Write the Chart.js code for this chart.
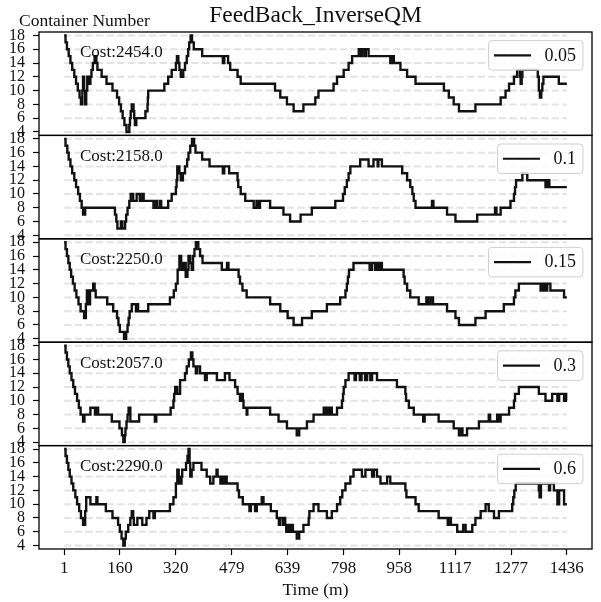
<!DOCTYPE html>
<html>
<head>
<meta charset="utf-8">
<title>FeedBack_InverseQM</title>
<script src="https://cdn.jsdelivr.net/npm/chart.js@4.4.1/dist/chart.umd.min.js"></script>
<style>
  html, body { margin: 0; padding: 0; background: #ffffff; }
  canvas { display: block; }
</style>
</head>
<body>
<canvas id="chart" width="601" height="602"></canvas>
<script>
// Container count per minute for each feedback weight, stored as change points:
// [minute, number of containers from that minute on].
const series005 = [[1,18],[5,17],[9,16],[14,15],[19,14],[24,13],[30,12],[35,11],[40,10],[45,9],[49,8],[53,10],[55,12],[58,10],[61,8],[64,10],[67,12],[71,11],[76,12],[79,13],[83,14],[88,15],[93,14],[96,13],[108,12],[122,11],[139,10],[152,9],[158,8],[163,7],[168,6],[173,5],[179,4],[187,5],[189,6],[191,7],[194,8],[199,7],[201,6],[203,5],[207,6],[233,7],[239,8],[240,9],[241,10],[287,11],[298,12],[308,13],[320,14],[323,15],[327,14],[330,13],[334,12],[341,13],[346,14],[351,15],[355,16],[358,17],[362,18],[366,17],[371,16],[395,15],[454,14],[458,15],[469,14],[475,13],[496,12],[505,11],[603,10],[618,9],[637,8],[656,7],[684,8],[718,9],[727,10],[770,11],[780,12],[799,13],[813,14],[823,15],[842,16],[849,15],[852,16],[859,15],[862,16],[870,15],[932,14],[936,15],[942,14],[961,13],[980,12],[1004,11],[1085,10],[1099,9],[1113,8],[1128,7],[1175,8],[1247,9],[1261,10],[1271,11],[1285,12],[1294,13],[1302,12],[1304,11],[1307,12],[1309,13],[1353,12],[1356,10],[1359,9],[1363,10],[1366,11],[1369,12],[1413,11],[1436,11]];

const series01 = [[1,18],[5,17],[10,16],[14,15],[19,14],[24,13],[30,12],[35,11],[41,10],[46,9],[51,8],[55,7],[61,8],[146,7],[150,6],[153,5],[163,6],[167,5],[175,6],[178,7],[182,8],[187,9],[191,10],[198,9],[208,10],[217,9],[224,10],[228,9],[256,8],[262,9],[267,8],[275,9],[278,8],[298,9],[308,10],[320,11],[322,12],[324,14],[330,13],[334,12],[340,13],[346,14],[352,15],[356,16],[361,17],[366,18],[372,17],[376,16],[395,15],[416,14],[454,13],[458,14],[472,13],[496,12],[498,11],[505,10],[518,9],[542,8],[550,9],[555,8],[560,9],[589,8],[627,7],[646,6],[676,7],[708,8],[775,9],[797,10],[802,11],[808,12],[813,13],[818,14],[846,15],[870,14],[884,15],[896,14],[898,15],[908,14],[966,13],[980,12],[989,11],[995,10],[999,9],[1004,8],[1051,9],[1055,8],[1094,7],[1118,6],[1180,7],[1231,8],[1235,7],[1247,8],[1275,9],[1285,10],[1288,11],[1291,12],[1309,13],[1323,12],[1375,11],[1380,12],[1386,11],[1436,11]];

const series015 = [[1,18],[5,17],[9,16],[13,15],[17,14],[21,13],[26,12],[31,11],[36,10],[42,9],[48,8],[58,7],[63,9],[66,11],[71,9],[75,11],[84,12],[88,11],[91,10],[124,9],[141,8],[152,7],[156,6],[160,5],[172,4],[178,5],[182,6],[185,7],[188,8],[194,9],[206,8],[209,9],[212,8],[241,9],[303,10],[314,11],[320,12],[325,14],[330,16],[335,15],[337,14],[342,15],[348,13],[353,14],[356,16],[361,15],[365,14],[369,16],[373,17],[377,18],[384,17],[389,16],[396,15],[451,14],[466,15],[470,14],[499,13],[503,12],[510,11],[522,10],[589,9],[618,8],[639,7],[656,6],[680,7],[708,8],[751,9],[789,10],[804,11],[808,12],[811,13],[814,14],[827,15],[873,14],[880,15],[889,14],[893,15],[898,14],[902,15],[908,14],[970,13],[973,12],[980,11],[989,10],[1013,9],[1035,10],[1040,9],[1047,10],[1054,9],[1094,8],[1118,7],[1128,6],[1175,7],[1204,8],[1256,9],[1285,10],[1289,11],[1299,12],[1361,11],[1364,12],[1368,11],[1372,12],[1376,11],[1380,12],[1389,11],[1428,10],[1436,10]];

const series03 = [[1,18],[5,17],[9,16],[13,15],[17,14],[22,13],[27,12],[32,11],[38,10],[43,9],[48,8],[55,7],[59,8],[76,9],[89,8],[94,9],[98,8],[137,7],[159,6],[166,5],[170,4],[174,5],[176,6],[179,7],[182,8],[185,9],[190,7],[215,8],[260,7],[264,8],[305,9],[313,10],[315,11],[318,12],[324,11],[332,13],[346,14],[351,15],[357,16],[363,17],[367,16],[370,15],[377,14],[381,15],[389,14],[403,13],[408,14],[437,13],[460,14],[473,13],[489,12],[496,11],[503,10],[507,11],[511,10],[513,9],[522,8],[524,9],[589,8],[613,7],[637,6],[665,5],[672,6],[694,7],[713,8],[742,9],[746,8],[752,9],[756,8],[760,9],[765,8],[780,9],[794,10],[797,11],[799,12],[804,13],[813,14],[830,13],[834,14],[845,13],[850,14],[860,13],[866,14],[875,13],[880,14],[894,13],[951,12],[975,11],[977,10],[985,9],[999,8],[1026,7],[1030,8],[1070,7],[1113,6],[1128,5],[1135,6],[1138,5],[1151,6],[1185,7],[1213,8],[1217,7],[1237,8],[1241,7],[1247,8],[1271,9],[1285,10],[1288,11],[1299,12],[1356,11],[1375,10],[1394,11],[1409,10],[1414,11],[1428,10],[1433,11],[1434,10],[1436,10]];

const series06 = [[1,18],[5,17],[9,16],[13,15],[17,14],[22,13],[27,12],[33,11],[38,10],[44,9],[49,8],[55,7],[61,9],[64,11],[76,10],[93,11],[96,10],[120,9],[139,8],[155,7],[160,6],[165,5],[170,4],[174,5],[177,6],[184,7],[190,8],[194,9],[198,8],[200,7],[210,8],[224,7],[236,8],[244,9],[256,8],[260,9],[303,10],[313,11],[320,13],[324,15],[328,14],[330,13],[336,14],[338,15],[349,16],[353,17],[356,18],[359,16],[361,14],[365,15],[370,16],[393,15],[408,14],[418,13],[427,14],[436,15],[439,14],[447,13],[450,14],[455,13],[460,14],[465,13],[496,12],[500,11],[511,10],[530,9],[534,10],[546,9],[551,10],[565,11],[570,10],[591,9],[608,8],[614,7],[617,8],[625,7],[628,8],[632,7],[635,6],[641,7],[645,6],[651,7],[654,6],[665,5],[672,6],[684,7],[699,8],[701,9],[713,10],[727,9],[751,8],[765,9],[780,10],[789,11],[795,12],[804,13],[818,14],[827,15],[851,14],[861,15],[880,14],[885,15],[894,14],[904,13],[923,14],[932,13],[975,12],[978,11],[1004,10],[1013,9],[1070,8],[1096,7],[1101,8],[1105,7],[1123,6],[1140,7],[1147,6],[1166,7],[1175,8],[1190,9],[1204,10],[1213,9],[1228,8],[1242,9],[1280,10],[1283,11],[1286,12],[1290,13],[1356,12],[1358,11],[1362,13],[1385,12],[1388,13],[1399,12],[1409,10],[1414,12],[1428,10],[1436,10]];

// One panel per weight, top to bottom.
const weightLabels = ['0.05', '0.1', '0.15', '0.3', '0.6'];
const costs = [2454.0, 2158.0, 2250.0, 2057.0, 2290.0];
const panelSeries = [series005, series01, series015, series03, series06];

// Axis ticks.
const yTickValues = [4, 6, 8, 10, 12, 14, 16, 18];
const xTickValues = [1, 160.4, 319.9, 479.3, 638.8, 798.2, 957.7, 1117.1, 1276.6, 1436];
const xTickLabels = ['1', '160', '320', '479', '639', '798', '958', '1117', '1277', '1436'];

const SERIF = '"Liberation Serif", "Times New Roman", serif';
const INK = '#111111';
const panelIds = panelSeries.map((_, i) => 'y' + i);

const datasets = panelSeries.map((s, i) => ({
  label: weightLabels[i],
  data: s.map(([t, v]) => ({ x: t, y: v })),
  xAxisID: 'x',
  yAxisID: panelIds[i],
  borderColor: INK,
  borderWidth: 2.4,
  pointRadius: 0,
  pointHoverRadius: 0,
  stepped: true,
  fill: false,
}));

const scales = {
  x: {
    type: 'linear',
    position: 'bottom',
    min: -70.75,
    max: 1507.75,
    afterBuildTicks: s => { s.ticks = xTickValues.map(v => ({ value: v })); },
    afterFit: s => { s.height = 53; },
    ticks: {
      autoSkip: false,
      maxRotation: 0,
      padding: 3,
      color: INK,
      font: { family: SERIF, size: 17 },
      callback: (v, i) => xTickLabels[i],
    },
    grid: { drawOnChartArea: false, drawTicks: true, tickLength: 6, tickColor: '#000', tickWidth: 1.2 },
    border: { display: false },
  },
};

panelIds.forEach((id, i) => {
  scales[id] = {
    type: 'linear',
    position: 'left',
    stack: 'panels',
    stackWeight: 1,
    weight: panelIds.length - i,
    min: 3.5,
    max: 18.5,
    afterBuildTicks: s => { s.ticks = yTickValues.map(v => ({ value: v })); },
    afterFit: s => { s.width = 39; },
    ticks: {
      autoSkip: false,
      padding: 8,
      color: INK,
      font: { family: SERIF, size: 16 },
    },
    grid: { drawOnChartArea: false, drawTicks: true, tickLength: 6, tickColor: '#000', tickWidth: 1.2 },
    border: { display: false },
  };
});

// Dashed reference lines, per-panel cost note, legend box, frames and titles.
const panelDecor = {
  id: 'panelDecor',
  beforeDatasetsDraw(chart) {
    const { ctx } = chart;
    const xs = chart.scales.x;
    const x0 = xs.getPixelForValue(xTickValues[0]);
    const x1 = xs.getPixelForValue(xTickValues[xTickValues.length - 1]);
    ctx.save();
    ctx.strokeStyle = '#e3e3e3';
    ctx.lineWidth = 2;
    ctx.setLineDash([7.4, 3.2]);
    panelIds.forEach(id => {
      const ys = chart.scales[id];
      yTickValues.forEach(v => {
        const y = ys.getPixelForValue(v);
        ctx.beginPath();
        ctx.moveTo(x0, y);
        ctx.lineTo(x1, y);
        ctx.stroke();
      });
    });
    ctx.restore();
  },
  afterDatasetsDraw(chart) {
    const { ctx, chartArea } = chart;
    ctx.save();
    panelIds.forEach((id, i) => {
      const ys = chart.scales[id];

      // cost note
      ctx.font = '17px ' + SERIF;
      ctx.fillStyle = INK;
      ctx.textAlign = 'left';
      ctx.textBaseline = 'alphabetic';
      ctx.fillText('Cost:' + costs[i].toFixed(1), chartArea.left + 41, ys.top + 25.3);

      // legend
      ctx.font = '18px ' + SERIF;
      const tw = ctx.measureText(weightLabels[i]).width;
      const boxW = 5.5 + 37 + 13.5 + tw + 7;
      const boxH = 29.5;
      const bx = chartArea.right - 9 - boxW;
      const by = ys.top + 8.6;
      ctx.beginPath();
      ctx.roundRect(bx, by, boxW, boxH, 3.5);
      ctx.fillStyle = 'rgba(255,255,255,0.8)';
      ctx.fill();
      ctx.strokeStyle = '#cfcfcf';
      ctx.lineWidth = 1;
      ctx.stroke();
      const cy = by + boxH / 2;
      ctx.beginPath();
      ctx.moveTo(bx + 5.5, cy);
      ctx.lineTo(bx + 5.5 + 37, cy);
      ctx.strokeStyle = INK;
      ctx.lineWidth = 2.2;
      ctx.stroke();
      ctx.fillStyle = INK;
      ctx.textBaseline = 'middle';
      ctx.fillText(weightLabels[i], bx + 5.5 + 37 + 13.5, cy + 0.5);

      // frame
      ctx.strokeStyle = '#000';
      ctx.lineWidth = 1.3;
      ctx.strokeRect(chartArea.left, ys.top, chartArea.right - chartArea.left, ys.bottom - ys.top);
    });
    ctx.restore();
  },
  afterDraw(chart) {
    const { ctx, chartArea } = chart;
    const cx = (chartArea.left + chartArea.right) / 2;
    ctx.save();
    ctx.fillStyle = INK;
    ctx.textBaseline = 'alphabetic';
    ctx.textAlign = 'center';
    ctx.font = '23.5px ' + SERIF;
    ctx.fillText('FeedBack_InverseQM', cx, 21.7);
    ctx.font = '17.5px ' + SERIF;
    ctx.fillText('Time (m)', cx, 595);
    ctx.textAlign = 'left';
    ctx.fillText('Container Number', 19, 26);
    ctx.restore();
  },
};

new Chart(document.getElementById('chart'), {
  type: 'line',
  data: { datasets },
  options: {
    responsive: false,
    animation: false,
    devicePixelRatio: 1,
    layout: { padding: { top: 32, right: 9, left: 0, bottom: 0 } },
    plugins: { legend: { display: false }, tooltip: { enabled: false } },
    scales,
  },
  plugins: [panelDecor],
});
</script>
</body>
</html>
